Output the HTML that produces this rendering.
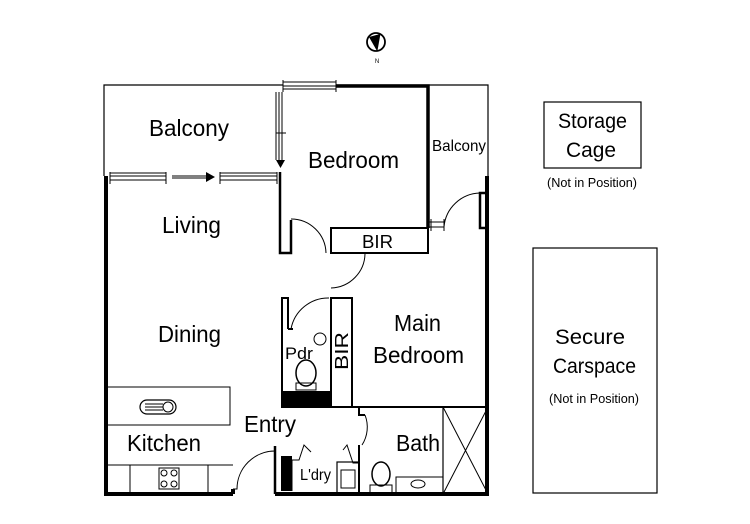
<!DOCTYPE html>
<html><head><style>html,body{margin:0;padding:0;background:#fff;}svg{display:block}</style></head>
<body>
<svg width="750" height="524" viewBox="0 0 750 524" xmlns="http://www.w3.org/2000/svg" font-family="Liberation Sans, sans-serif" fill="#000">
<rect width="750" height="524" fill="#fff"/>
<!-- compass -->
<circle cx="376" cy="42" r="9" fill="none" stroke="#000" stroke-width="1.8"/>
<polygon points="369,37 380,34 377,51" fill="#000"/>
<line x1="380" y1="34" x2="377" y2="51" stroke="#000" stroke-width="0.8"/>
<text x="377" y="63" font-size="6" text-anchor="middle">N</text>
<g stroke="#000" fill="none">
<path d="M104,176 V85 H283 M336,85 H488 V177" stroke-width="1.2"/>
<path d="M106,176 V494 H233 M233,489 V494 M275,494 H487 V176" stroke-width="4"/>
<path d="M486,228 H480 V193 H486" stroke-width="2.5"/>
<path d="M336,86 H428 V228" stroke-width="3.5"/>
<path d="M280,172 V253 H291 V220" stroke-width="2.5"/>
<path d="M283,82 H336 M283,86 H336 M283,89 H336 M283,80 V92 M336,80 V92" stroke-width="1"/>
<path d="M276,92 V160 M279,92 V160 M282,92 V160 M276,133 H286 M280,160 V166" stroke-width="1"/>
<polygon points="276,160 285,160 280.5,168" fill="#000" stroke="none"/>
<path d="M110,173 H166 M110,176 H166 M110,180 H166 M110,172 V184 M166,172 V184 M172,176 H206 M172,178 H206 M220,173 H277 M220,176 H277 M220,180 H277 M220,172 V184 M277,172 V184" stroke-width="1"/>
<polygon points="206,172 215,177 206,182" fill="#000" stroke="none"/>
<rect x="331" y="228" width="97" height="25" stroke-width="2"/>
<path d="M291,219 A35,35 0 0 1 326,253" stroke-width="1"/>
<path d="M331,253 H365 A35,35 0 0 1 331,288" stroke-width="1"/>
<path d="M480,193 A37,37 0 0 0 444,227" stroke-width="1"/>
<path d="M429,222 H444 M429,227 H444 M444,219 V231 M431,219 V231" stroke-width="1"/>
<path d="M282,329 V298 H288 V329 M288,329 H293" stroke-width="2"/>
<path d="M291,329 A38,38 0 0 1 329,298" stroke-width="1"/>
<path d="M331,407 V298 H352 V407 M282,329 V407 H352" stroke-width="2"/>
<rect x="282" y="391" width="49" height="16" fill="#000" stroke="none"/>
<circle cx="320" cy="339" r="6" stroke-width="1"/>
<ellipse cx="306" cy="373" rx="10" ry="13" stroke-width="1.5"/>
<rect x="296" y="383" width="20" height="7" stroke-width="1"/>
<path d="M352,407 H488" stroke-width="2"/>
<path d="M359,407 V415 H365" stroke-width="2"/>
<path d="M365,415 A33,33 0 0 1 362,445" stroke-width="1"/>
<path d="M359,445 V494" stroke-width="2"/>
<rect x="443" y="407" width="45" height="87" stroke-width="1.2"/>
<path d="M443,407 L488,494 M488,407 L443,494" stroke-width="1"/>
<rect x="396" y="477" width="47" height="17" stroke-width="1"/>
<ellipse cx="418" cy="484" rx="7" ry="4" stroke-width="1"/>
<ellipse cx="381" cy="474" rx="9" ry="12" stroke-width="1.5"/>
<rect x="370" y="485" width="22" height="8" stroke-width="1"/>
<path d="M275,494 V446" stroke-width="2.5"/>
<rect x="281" y="456" width="11" height="35" fill="#000" stroke="none"/>
<path d="M292,491 V460 H299 L304,445 L311,452" stroke-width="1"/>
<path d="M359,463 H353 L347,445 L343,450" stroke-width="1"/>
<rect x="337" y="462" width="22" height="32" stroke-width="1.2"/>
<rect x="341" y="470" width="14" height="18" stroke-width="1"/>
<path d="M233,489 H237 A38,38 0 0 1 275,451" stroke-width="1"/>
<rect x="106" y="387" width="124" height="38" stroke-width="1"/>
<rect x="140" y="400" width="36" height="14" rx="7" stroke-width="1.2"/>
<path d="M145,404 H163 M145,407 H163 M145,410 H163" stroke-width="1"/>
<circle cx="168" cy="407" r="5" stroke-width="1"/>
<path d="M106,465 H233 M130,465 V494 M208,465 V494" stroke-width="1"/>
<rect x="159" y="468" width="20" height="21" stroke-width="1"/>
<circle cx="164" cy="473" r="3" stroke-width="1"/><circle cx="174" cy="473" r="3" stroke-width="1"/>
<circle cx="164" cy="484" r="3" stroke-width="1"/><circle cx="174" cy="484" r="3" stroke-width="1"/>
<rect x="544" y="102" width="97" height="66" stroke-width="1.2"/>
<rect x="533" y="248" width="124" height="245" stroke-width="1.2"/>
</g>
<g stroke="none" fill="#000">
<text x="149" y="136" font-size="23" textLength="80" lengthAdjust="spacingAndGlyphs">Balcony</text>
<text x="308" y="168" font-size="23" textLength="91" lengthAdjust="spacingAndGlyphs">Bedroom</text>
<text x="432" y="151" font-size="16" textLength="54" lengthAdjust="spacingAndGlyphs">Balcony</text>
<text x="162" y="233" font-size="23" textLength="59" lengthAdjust="spacingAndGlyphs">Living</text>
<text x="362" y="248" font-size="18" textLength="31" lengthAdjust="spacingAndGlyphs">BIR</text>
<text x="158" y="342" font-size="23" textLength="63" lengthAdjust="spacingAndGlyphs">Dining</text>
<text x="285" y="359" font-size="17" textLength="28" lengthAdjust="spacingAndGlyphs">Pdr</text>
<text transform="translate(348,370) rotate(-90)" font-size="18" textLength="38" lengthAdjust="spacingAndGlyphs">BIR</text>
<text x="394" y="331" font-size="23" textLength="47" lengthAdjust="spacingAndGlyphs">Main</text>
<text x="373" y="363" font-size="23" textLength="91" lengthAdjust="spacingAndGlyphs">Bedroom</text>
<text x="244" y="432" font-size="23" textLength="52" lengthAdjust="spacingAndGlyphs">Entry</text>
<text x="127" y="451" font-size="23" textLength="74" lengthAdjust="spacingAndGlyphs">Kitchen</text>
<text x="396" y="451" font-size="23" textLength="44" lengthAdjust="spacingAndGlyphs">Bath</text>
<text x="300" y="480" font-size="16" textLength="31" lengthAdjust="spacingAndGlyphs">L'dry</text>
<text x="558" y="128" font-size="21" textLength="69" lengthAdjust="spacingAndGlyphs">Storage</text>
<text x="566" y="157" font-size="21" textLength="50" lengthAdjust="spacingAndGlyphs">Cage</text>
<text x="547" y="187" font-size="13" textLength="90" lengthAdjust="spacingAndGlyphs">(Not in Position)</text>
<text x="555" y="344" font-size="21" textLength="70" lengthAdjust="spacingAndGlyphs">Secure</text>
<text x="553" y="373" font-size="21" textLength="83" lengthAdjust="spacingAndGlyphs">Carspace</text>
<text x="549" y="403" font-size="13" textLength="90" lengthAdjust="spacingAndGlyphs">(Not in Position)</text>
</g>
</svg>
</body></html>
